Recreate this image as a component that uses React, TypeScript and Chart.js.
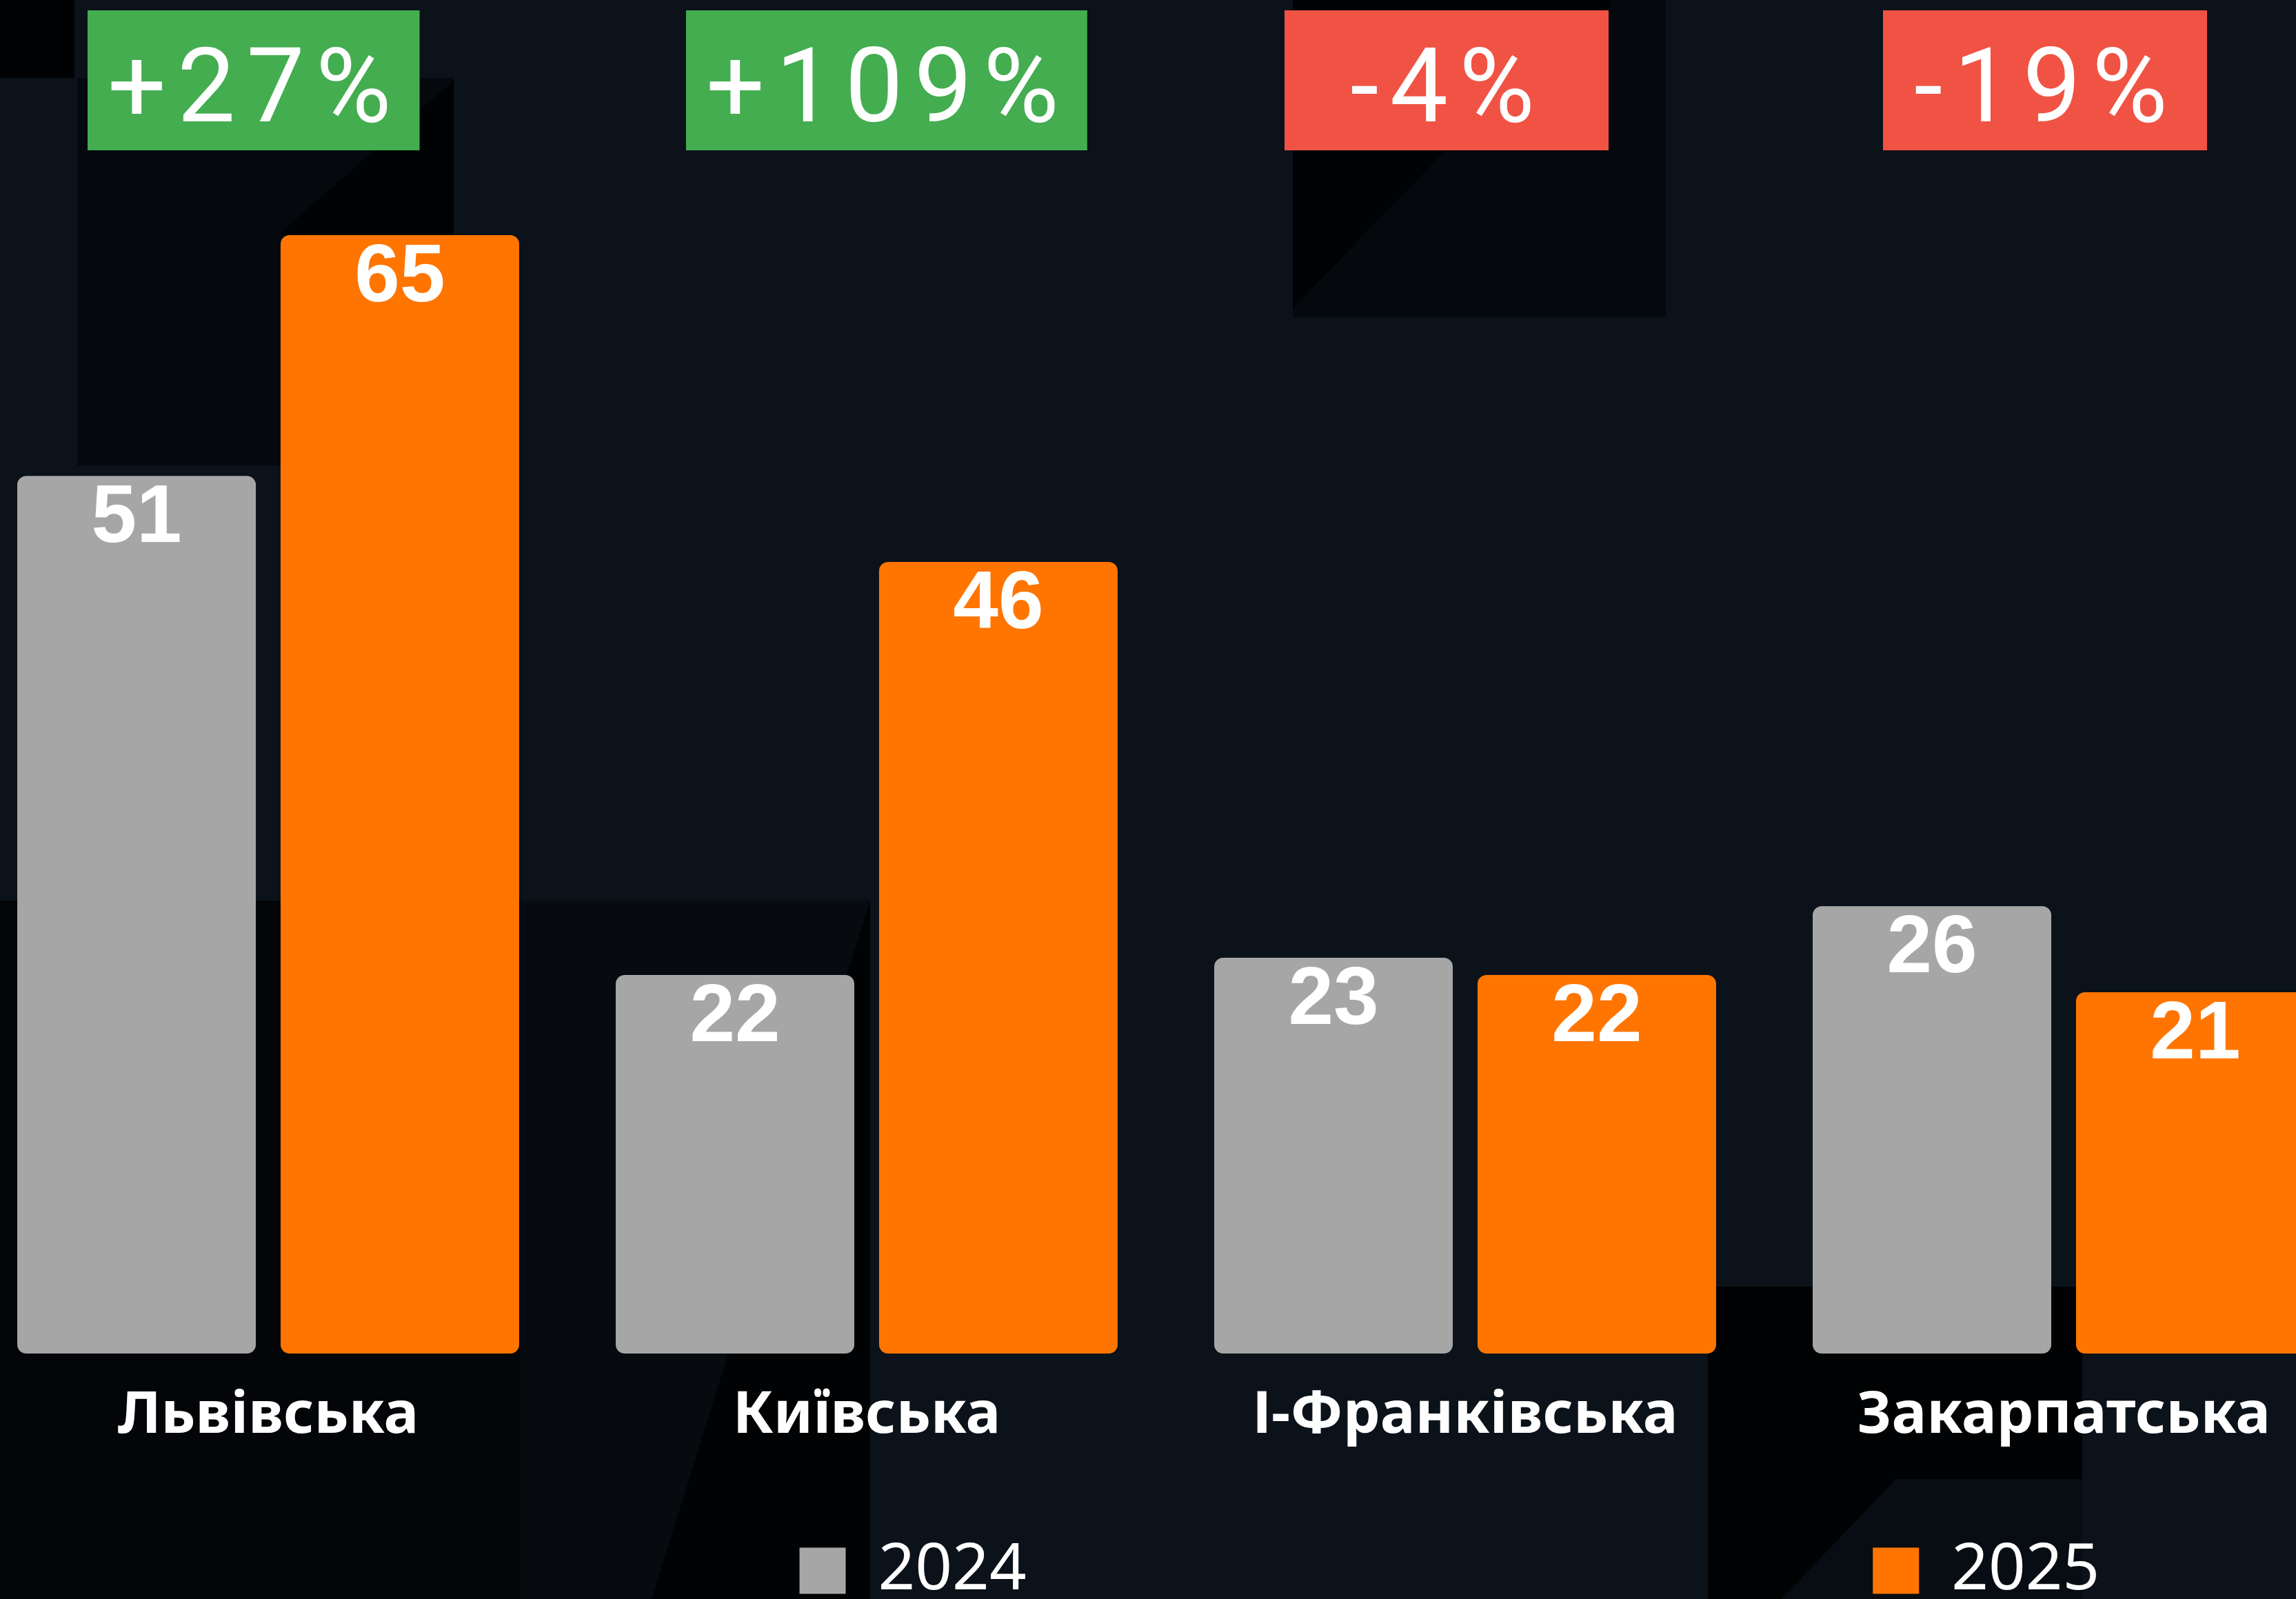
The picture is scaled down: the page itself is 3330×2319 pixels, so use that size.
import { useEffect, useRef } from "react";
import { Chart, registerables } from "chart.js";

Chart.register(...registerables);

// ---- data ----
const categories = ["Львівська", "Київська", "І-Франківська", "Закарпатська"];
const seriesNames = ["2024", "2025"];
const values2024 = [51, 22, 23, 26];
const values2025 = [65, 46, 22, 21];
const changeLabels = ["+27%", "+109%", "-4%", "-19%"];

// ---- layout / style constants ----
const CANVAS_W = 3472;
const CANVAS_H = 2335;
const SHIFT = 45; // canvas starts 45px left of the page
const BG = "#0b121a";
const GREY = "#a6a6a6";
const ORANGE = "#ff7500";
const GREEN = "#43ad50";
const RED = "#f05344";

// decorative background patches (page coordinates)
const backdropShapes: { color: string; pts: number[][] }[] = [
  { color: "#010203", pts: [[0, 0], [108, 0], [108, 113], [0, 113]] },
  { color: "#05080d", pts: [[112, 113], [658, 113], [658, 675], [112, 675]] },
  { color: "#010203", pts: [[658, 117], [658, 340], [404, 340]] },
  { color: "#05080d", pts: [[1875, 0], [2416, 0], [2416, 460], [1875, 460]] },
  { color: "#010203", pts: [[1875, 220], [2095, 220], [1875, 447]] },
  { color: "#010203", pts: [[1875, 0], [2336, 0], [2336, 15], [1875, 15]] },
  { color: "#070b10", pts: [[754, 1306], [1262, 1306], [1262, 2319], [754, 2319]] },
  { color: "#010203", pts: [[1262, 1306], [1262, 2319], [945, 2319]] },
  { color: "#030508", pts: [[0, 1306], [754, 1306], [754, 2319], [0, 2319]] },
  { color: "#010203", pts: [[2477, 1866], [3020, 1866], [3020, 2145], [2750, 2145], [2584, 2319], [2477, 2319]] },
  { color: "#080d14", pts: [[2750, 2145], [3020, 2145], [3020, 2319], [2584, 2319]] },
];

const backgroundPlugin = {
  id: "backdrop",
  beforeDraw(chart: any) {
    const ctx = chart.ctx;
    ctx.save();
    ctx.fillStyle = BG;
    ctx.fillRect(0, 0, chart.width, chart.height);
    ctx.translate(SHIFT, 0);
    for (const s of backdropShapes) {
      ctx.fillStyle = s.color;
      ctx.beginPath();
      s.pts.forEach(([x, y], i) => (i ? ctx.lineTo(x, y) : ctx.moveTo(x, y)));
      ctx.closePath();
      ctx.fill();
    }
    ctx.restore();
  },
};

const valueLabelPlugin = {
  id: "valueLabels",
  afterDatasetsDraw(chart: any) {
    const ctx = chart.ctx;
    ctx.save();
    ctx.font = 'bold 118px "Liberation Sans", Arial, sans-serif';
    ctx.fillStyle = "#ffffff";
    ctx.textAlign = "center";
    ctx.textBaseline = "alphabetic";
    chart.data.datasets.forEach((ds: any, di: number) => {
      const meta = chart.getDatasetMeta(di);
      meta.data.forEach((bar: any, i: number) => {
        ctx.fillText(String(ds.data[i]), bar.x, bar.y + 96);
      });
    });
    ctx.restore();
  },
};

const BOX_LETTER_SPACING = 16;

const changeBoxPlugin = {
  id: "changeBoxes",
  afterDraw(chart: any) {
    const ctx = chart.ctx;
    const xs = chart.scales.x;
    const top = chart.chartArea.top;
    ctx.save();
    ctx.font = 'normal 150px Roboto, "DejaVu Sans", sans-serif';
    let spacing = 0;
    if ("letterSpacing" in ctx) {
      (ctx as any).letterSpacing = `${BOX_LETTER_SPACING}px`;
      spacing = BOX_LETTER_SPACING;
    }
    ctx.textAlign = "left";
    ctx.textBaseline = "alphabetic";
    changeLabels.forEach((lab, i) => {
      const cx = xs.getPixelForValue(i);
      const tw = ctx.measureText(lab).width - spacing;
      const bw = Math.max(tw + 70, 470);
      const left = cx - 262;
      ctx.fillStyle = lab.trim().startsWith("-") ? RED : GREEN;
      ctx.fillRect(left, top + 15, bw, 203);
      ctx.fillStyle = "#ffffff";
      ctx.fillText(lab, left + (bw - tw) / 2 - 6, top + 176);
    });
    ctx.restore();
  },
};

const LEGEND_FONT_SIZE = 94;
const LEGEND_FONT = `normal ${LEGEND_FONT_SIZE}px "Noto Sans"`;
const LEGEND_PAD = 94;
const legendTextWidths = [1349, 507];

export default function App() {
  const ref = useRef<HTMLCanvasElement | null>(null);

  useEffect(() => {
    if (!ref.current) return;
    const chart = new Chart(ref.current, {
      type: "bar",
      data: {
        labels: categories,
        datasets: [
          {
            label: seriesNames[0],
            data: values2024,
            backgroundColor: GREY,
            borderRadius: 13,
            borderSkipped: false,
            categoryPercentage: 0.88,
            barPercentage: 0.906,
          },
          {
            label: seriesNames[1],
            data: values2025,
            backgroundColor: ORANGE,
            borderRadius: 13,
            borderSkipped: false,
            categoryPercentage: 0.88,
            barPercentage: 0.906,
          },
        ],
      },
      options: {
        responsive: false,
        animation: false,
        maintainAspectRatio: false,
        layout: { padding: 0 },
        scales: {
          x: {
            grid: { display: false },
            border: { display: false },
            ticks: {
              color: "#ffffff",
              font: { family: "Noto Sans", weight: "bold", size: 85 },
              padding: 32,
              maxRotation: 0,
              autoSkip: false,
            },
          },
          y: { display: false, min: 0, max: 78.66 },
        },
        plugins: {
          tooltip: { enabled: false },
          legend: {
            position: "bottom",
            align: "end",
            labels: {
              color: "#ffffff",
              font: { family: "Noto Sans", size: LEGEND_FONT_SIZE, weight: "normal" },
              boxWidth: 67,
              boxHeight: 67,
              padding: LEGEND_PAD,
              generateLabels: (c: any) => {
                const items = (Chart as any).defaults.plugins.legend.labels.generateLabels(c);
                const ctx = c.ctx;
                ctx.save();
                ctx.font = LEGEND_FONT;
                items.forEach((it: any, i: number) => {
                  let t = it.text;
                  const target = legendTextWidths[i] ?? 0;
                  while (ctx.measureText(t + " ").width <= target) t += " ";
                  while (ctx.measureText(t + "\u200A").width <= target + 2) t += "\u200A";
                  it.text = t;
                  it.lineWidth = 0;
                  it.strokeStyle = "transparent";
                });
                ctx.restore();
                return items;
              },
            },
          },
        },
      },
      plugins: [backgroundPlugin, valueLabelPlugin, changeBoxPlugin],
    } as any);
    return () => chart.destroy();
  }, []);

  return (
    <div
      style={{
        position: "fixed",
        left: 0,
        top: 0,
        width: 3330,
        height: 2319,
        overflow: "hidden",
        background: BG,
      }}
    >
      <canvas
        ref={ref}
        width={CANVAS_W}
        height={CANVAS_H}
        style={{ position: "absolute", left: -SHIFT, top: 0, width: CANVAS_W, height: CANVAS_H }}
      />
    </div>
  );
}
